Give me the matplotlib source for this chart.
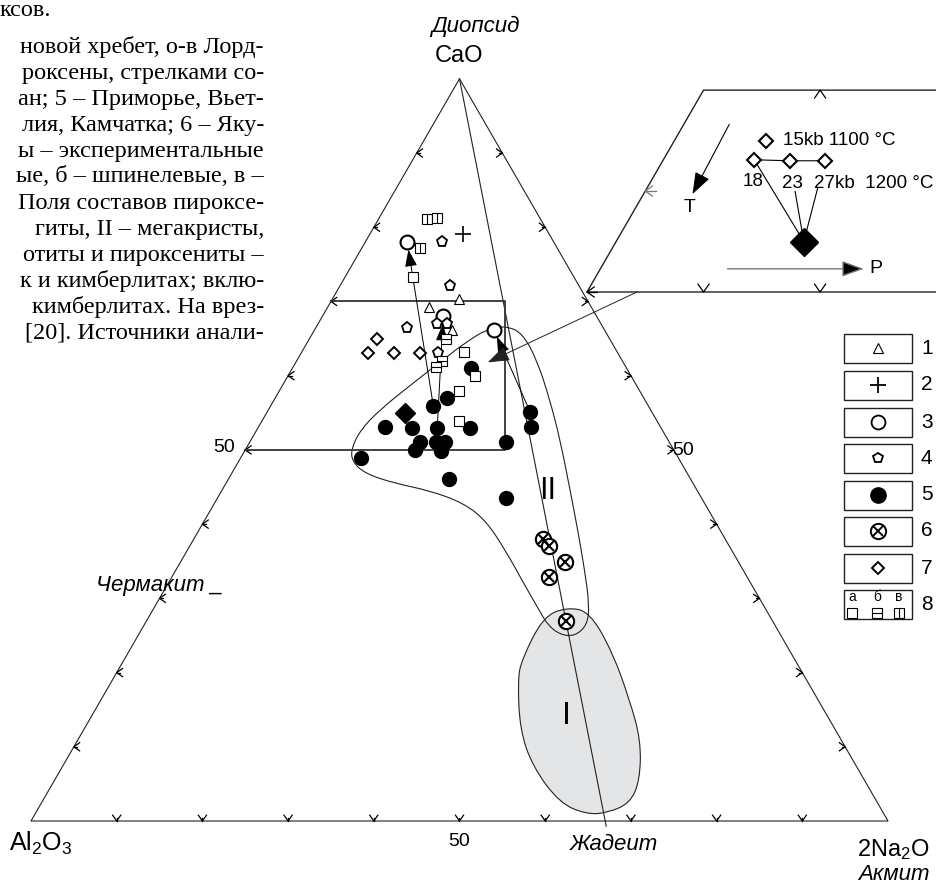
import numpy as np
import matplotlib.pyplot as plt
from matplotlib.path import Path
from matplotlib.patches import PathPatch, Rectangle

plt.rcParams['font.family'] = ['Liberation Sans', 'DejaVu Sans']

# compositions, %: CaO and 2Na2O (Al2O3 = the rest)
cao_1 = [70.3, 69.2, 66.1]
na_1 = [14.8, 11.8, 16.1]
cao_2 = [79.1]
na_2 = [10.9]
cao_3 = [78.0, 68.0, 66.2]
na_3 = [4.9, 14.1, 20.9]
cao_4 = [78.0, 72.1, 67.0, 67.0, 66.4, 63.1]
na_4 = [9.0, 12.8, 13.9, 15.0, 10.7, 15.9]
cao_5 = [61.0, 57.0, 55.9, 53.1, 52.9, 53.0, 53.0, 51.1, 50.0, 51.0, 51.0, 49.9,
         51.0, 48.9, 46.1, 55.1, 53.1, 43.5]
na_5 = [20.9, 20.0, 19.0, 14.8, 18.0, 20.9, 24.7, 19.8, 19.8, 21.8, 22.8, 22.9,
        29.9, 14.0, 25.7, 30.7, 31.8, 33.7]
cao_6 = [38.0, 37.0, 34.9, 32.9, 27.0]
na_6 = [40.8, 42.0, 44.9, 44.0, 48.9]
cao_7 = [65.0, 63.1, 63.0, 63.0]
na_7 = [7.9, 7.8, 10.9, 13.9]
cao_8a = [73.3, 63.2, 60.0, 58.0, 53.9]
na_8a = [7.9, 18.9, 21.8, 21.0, 23.0]
cao_8b = [64.9, 62.0, 61.2]
na_8b = [16.0, 16.9, 16.7]
cao_8v = [81.1, 81.2, 77.2]
na_8v = [5.7, 6.8, 6.8]
cao_gt = [55.0]
na_gt = [16.1]

# arrows: from (CaO, 2Na2O) to (CaO, 2Na2O)
arrow_from = [(55.9, 19.0), (53.0, 20.9), (55.1, 30.7)]
arrow_to = [(78.0, 4.9), (68.0, 14.1), (66.2, 20.9)]
link_from = (71.3, 35.1)
link_to = (61.8, 22.4)

# fields
field1_cao = [28.8, 28.2, 22.6, 16.3, 10.9, 5.5, 2.4, 1.1, 0.9, 2.4, 7.3, 12.3, 19.0, 21.7, 27.5]
field1_na = [48.1, 51.1, 56.6, 61.7, 65.7, 68.3, 68.7, 66.7, 64.4, 60.5, 54.9, 50.9, 47.3, 46.4, 46.0]
field2_cao = [66.3, 66.7, 65.8, 62.1, 56.7, 51.3, 44.6, 39.2, 33.8, 29.1, 26.4, 24.9, 25.1,
              26.4, 28.2, 31.8, 36.5, 40.6, 42.9, 44.5, 45.5, 46.8, 48.4, 50.1, 52.7,
              55.4, 58.7, 61.8, 64.4]
field2_na = [20.1, 22.0, 24.4, 28.0, 32.2, 36.1, 40.6, 44.2, 47.7, 50.6, 51.7, 51.0, 49.2,
             47.1, 45.3, 41.7, 37.1, 32.7, 28.9, 24.3, 19.7, 15.6, 13.3, 12.3, 12.1,
             13.0, 14.9, 16.8, 18.4]

# detail box (CaO, 2Na2O)
box_cao = [70, 70, 50, 50]
box_na = [0, 20.3, 30.3, 0]
jadeite_na = 67.0

# inset arrows
t_arrow = [(66.6, 3.9), (59.7, 4.2)]
p_arrow = [(52.3, 10.9), (52.3, 22.6)]

text_lines = ["новой хребет, о-в Лорд-", "роксены, стрелками со-", "ан; 5 – Приморье, Вьет-",
              "лия, Камчатка; 6 – Яку-", "ы – экспериментальные", "ые, б – шпинелевые, в –",
              "Поля составов пироксе-", "гиты, II – мегакристы,", "отиты и пироксениты –",
              "к и кимберлитах; вклю-", "кимберлитах. На врез-", "[20]. Источники анали-"]
text_y = [47, 73, 99, 125, 151, 177, 203, 229, 255, 281, 307, 333]

H = np.sqrt(3) / 2


def tern(c, n):
    c = np.asarray(c, float) / 100
    n = np.asarray(n, float) / 100
    return n + c / 2, c * H


B0 = np.array(tern(50, 0))
I0 = np.array([556 / 857, 529 / 857])
S = 1.36


def inset(c, n):
    x, y = tern(c, n)
    return I0[0] + S * (x - B0[0]), I0[1] + S * (y - B0[1])


def px(x, y):
    return (x - 31) / 857, (821 - y) / 857


def chevron(ax, p, d, L=0.009, stem=0.004, lw=0.9, color='k'):
    p = np.asarray(p)
    d = np.asarray(d, float)
    a = np.radians(35)
    r1 = np.array([d[0] * np.cos(a) - d[1] * np.sin(a), d[0] * np.sin(a) + d[1] * np.cos(a)])
    r2 = np.array([d[0] * np.cos(a) + d[1] * np.sin(a), -d[0] * np.sin(a) + d[1] * np.cos(a)])
    pts = np.array([p + L * r1, p, p + L * r2])
    ax.plot(pts[:, 0], pts[:, 1], color=color, lw=lw, solid_capstyle='butt')
    if stem:
        ax.plot([p[0], p[0] + stem * d[0]], [p[1], p[1] + stem * d[1]], color=color, lw=lw)


def smooth_closed(xs, ys):
    pts = np.column_stack([xs, ys])
    n = len(pts)
    mids = (pts + np.roll(pts, -1, axis=0)) / 2
    verts = [mids[-1]]
    codes = [Path.MOVETO]
    for i in range(n):
        verts += [pts[i], mids[i]]
        codes += [Path.CURVE3, Path.CURVE3]
    return Path(verts, codes)


fig = plt.figure(figsize=(9.37, 8.86), dpi=100)
ax = fig.add_axes([0, 0, 1, 1])
ax.set_xlim(-31 / 857, 906 / 857)
ax.set_ylim(-65 / 857, 821 / 857)
ax.axis('off')

# fields
x1, y1 = tern(field1_cao, field1_na)
ax.add_patch(PathPatch(smooth_closed(x1, y1), fc='#e4e5e7', ec='#222', lw=0.8, zorder=1))
x2, y2 = tern(field2_cao, field2_na)
ax.add_patch(PathPatch(smooth_closed(x2, y2), fc='none', ec='#222', lw=0.8, zorder=2))

# triangle
tx, ty = tern([100, 0, 0, 100], [0, 0, 100, 0])
ax.plot(tx, ty, color='#222', lw=0.8, zorder=2)
for k in range(10, 100, 10):
    chevron(ax, tern(k, 0), (1, 0))
    chevron(ax, tern(k, 100 - k), (-1, 0))
    chevron(ax, tern(0, k), (0, 1))

# diopside - jadeite line
ax_, ay_ = tern(100, 0)
jx, jy = tern(0, jadeite_na)
ax.plot([ax_, jx + (jx - ax_) * 0.007], [ay_, jy + (jy - ay_) * 0.007], color='#222', lw=0.8, zorder=2)

# detail box
bx, by = tern(box_cao, box_na)
ax.plot(bx, by, color='#333', lw=1.3, zorder=2)

# inset frame
fx, fy = inset([50, 50, 70, 70], [60, 0, 0, 60])
ax.plot(fx, fy, color='#222', lw=1.0, zorder=2)
for c in (50, 60):
    chevron(ax, inset(c, 0), (1, 0), L=0.011, stem=0.012, color='#777' if c == 60 else 'k')
chevron(ax, inset(70, 10), (0, -1), L=0.012, stem=0)
for n in (10, 20):
    chevron(ax, inset(50, n), (0, 1), L=0.012, stem=0)

head = '-|>,head_length=0.75,head_width=0.27'

# arrows
for (c0, n0), (c1, n1) in zip(arrow_from, arrow_to):
    ax.annotate('', xy=tern(c1, n1), xytext=tern(c0, n0),
                arrowprops=dict(arrowstyle=head, color='k', lw=0.7,
                                mutation_scale=14, shrinkA=5, shrinkB=5.5), zorder=3)
ax.annotate('', xy=tern(*link_to), xytext=tern(*link_from),
            arrowprops=dict(arrowstyle=head, color='#222', lw=0.7,
                            mutation_scale=18, shrinkA=0, shrinkB=0), zorder=3)


# data points
def pts(c, n, **kw):
    x, y = tern(c, n)
    ax.plot(x, y, ls='none', zorder=4, **kw)


pts(cao_5, na_5, marker='o', ms=10, mfc='k', mec='k')
pts(cao_1, na_1, marker='^', ms=7, mfc='white', mec='k', mew=0.8)
pts(cao_2, na_2, marker='+', ms=11, mec='k', mew=1.2)
pts(cao_3, na_3, marker='o', ms=10, mfc='white', mec='k', mew=1.5)
pts(cao_4, na_4, marker='p', ms=8, mfc='white', mec='k', mew=1.3)
pts(cao_6, na_6, marker='o', ms=11, mfc='white', mec='k', mew=1.5)
pts(cao_6, na_6, marker='x', ms=6.5, mec='k', mew=1.5)
pts(cao_7, na_7, marker='D', ms=6.5, mfc='white', mec='k', mew=1.4)
pts(cao_8a, na_8a, marker='s', ms=6.5, mfc='white', mec='k', mew=0.8)
pts(cao_8b, na_8b, marker='s', ms=6.5, mfc='white', mec='k', mew=0.8)
pts(cao_8b, na_8b, marker='_', ms=6.5, mec='k', mew=0.8)
pts(cao_8v, na_8v, marker='s', ms=6.5, mfc='white', mec='k', mew=0.8)
pts(cao_8v, na_8v, marker='|', ms=6.5, mec='k', mew=0.8)
pts(cao_gt, na_gt, marker='D', ms=10, mfc='k', mec='k')

# inset content
ix, iy = inset(cao_7, na_7)
gx, gy = inset(cao_gt, na_gt)
ax.plot(ix[1:], iy[1:], color='k', lw=0.8, zorder=3)
for i, f in zip((1, 2, 3), (0.0, 0.38, 0.33)):
    sx = ix[i] + f * (gx[0] - ix[i])
    sy = iy[i] + f * (gy[0] - iy[i])
    ax.plot([sx, gx[0]], [sy, gy[0]], color='k', lw=0.8, zorder=3)
ax.plot(ix, iy, ls='none', marker='D', ms=7, mfc='white', mec='k', mew=1.5, zorder=4)
ax.plot(gx, gy, ls='none', marker='D', ms=14, mfc='k', mec='k', zorder=4)
ax.annotate('15kb 1100 °C', (ix[0], iy[0]), xytext=(12, 0), textcoords='offset points',
            ha='left', va='center', fontsize=13.5)
ax.annotate('18', (ix[1], iy[1]), xytext=(-1, -16), textcoords='offset points',
            ha='center', va='center', fontsize=13.5)
ax.annotate('23', (ix[2], iy[2]), xytext=(2, -16), textcoords='offset points',
            ha='center', va='center', fontsize=13.5)
ax.annotate('27kb  1200 °C', (ix[3], iy[3]), xytext=(-8, -16), textcoords='offset points',
            ha='left', va='center', fontsize=13.5)
t0, t1 = inset(*t_arrow[0]), inset(*t_arrow[1])
ax.annotate('', xy=t1, xytext=t0,
            arrowprops=dict(arrowstyle=head, color='k', lw=0.8,
                            mutation_scale=18, shrinkA=0, shrinkB=0))
ax.annotate('T', t1, xytext=(-2, -10), textcoords='offset points', ha='center', va='center', fontsize=14)
p0, p1 = inset(*p_arrow[0]), inset(*p_arrow[1])
ax.annotate('', xy=p1, xytext=p0,
            arrowprops=dict(arrowstyle=head, color='#777', lw=1.0,
                            mutation_scale=18, shrinkA=0, shrinkB=0, fc='k', ec='#777'))
ax.annotate('P', p1, xytext=(9, 0), textcoords='offset points', ha='center', va='center', fontsize=14)

# labels
lab = dict(ha='center', va='center')
ax.text(*px(475, 26), 'Диопсид', fontsize=16, style='italic', **lab)
ax.text(*px(459, 56), 'CaO', fontsize=17, **lab)
ax.text(*px(41, 843), r'$\mathregular{Al_2O_3}$', fontsize=18, **lab)
ax.text(*px(893, 850), r'$\mathregular{2Na_2O}$', fontsize=17, **lab)
ax.text(*px(894, 874), 'Акмит', fontsize=16, style='italic', **lab)
ax.text(*px(614, 844), 'Жадеит', fontsize=16, style='italic', **lab)
ax.text(*px(459, 841), '50', fontsize=14, **lab)
ax.text(*px(224, 447), '50', fontsize=14, **lab)
ax.text(*px(683, 450), '50', fontsize=14, **lab)
ax.text(*px(223, 586), 'Чермакит _', fontsize=16, style='italic', ha='right', va='center')
ax.text(*px(548, 491), 'II', fontsize=22, **lab)
ax.text(*px(566, 716), 'I', fontsize=23, **lab)

# legend
leg_y = [348, 385, 422, 458, 495, 531, 568, 604]
for i, yc in enumerate(leg_y):
    x0, y0 = px(844, yc + 14.5)
    ax.add_patch(Rectangle((x0, y0), 68 / 857, 29 / 857, fc='white', ec='#222', lw=1.0, zorder=3))
    ax.text(*px(921, yc), str(i + 1), fontsize=15, ha='left', va='center')
lx = px(878, 0)[0]
ly = [px(0, y)[1] for y in leg_y]
ax.plot(lx, ly[0], marker='^', ms=7, mfc='white', mec='k', mew=0.8, zorder=4)
ax.plot(lx, ly[1], marker='+', ms=12, mec='k', mew=1.3, zorder=4)
ax.plot(lx, ly[2], marker='o', ms=10, mfc='white', mec='k', mew=1.3, zorder=4)
ax.plot(lx, ly[3], marker='p', ms=7.5, mfc='white', mec='k', mew=1.3, zorder=4)
ax.plot(lx, ly[4], marker='o', ms=11, mfc='k', mec='k', zorder=4)
ax.plot(lx, ly[5], marker='o', ms=11, mfc='white', mec='k', mew=1.4, zorder=4)
ax.plot(lx, ly[5], marker='x', ms=6.5, mec='k', mew=1.4, zorder=5)
ax.plot(lx, ly[6], marker='D', ms=6.5, mfc='white', mec='k', mew=1.4, zorder=4)
for xc, letter, over in zip((852, 877, 899), ('а', 'б', 'в'), (None, '_', '|')):
    ax.text(*px(xc, 597), letter, fontsize=10, ha='center', va='center', zorder=5)
    ax.plot(*px(xc, 613), marker='s', ms=6.5, mfc='white', mec='k', mew=0.8, zorder=4)
    if over:
        ax.plot(*px(xc, 613), marker=over, ms=6.5, mec='k', mew=0.8, zorder=5)

# caption text fragment on the left
fig.text(0, 1 - 11 / 886, 'ксов.', fontsize=17.5, family='Liberation Serif', ha='left', va='center')
for line, yc in zip(text_lines, text_y):
    fig.text(264 / 937, 1 - yc / 886, line, fontsize=17.5, family='Liberation Serif',
             ha='right', va='center')

fig.savefig('out.png', dpi=100)
